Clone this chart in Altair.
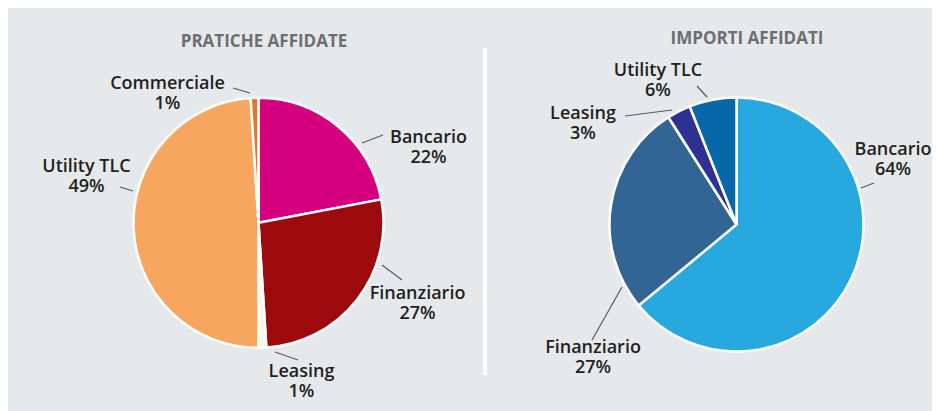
import altair as alt
import pandas as pd

# ---------------- data ----------------
left_title = "PRATICHE AFFIDATE"
left_categories = ["Bancario", "Finanziario", "Leasing", "Utility TLC", "Commerciale"]
left_values = [22, 27, 1, 49, 1]

right_title = "IMPORTI AFFIDATI"
right_categories = ["Bancario", "Finanziario", "Leasing", "Utility TLC"]
right_values = [64, 27, 3, 6]

# ---------------- styles ----------------
left_colors = ["#d5007f", "#9d0a0e", "#fdf3ec", "#f7a65f", "#e2762a"]
right_colors = ["#27a9e0", "#336594", "#2e3092", "#0768a9"]
BG = "#e6e9ec"
TEXT = "#231f20"
TITLE = "#6d6e71"
LEADER = "#58595b"
FONT = "Open Sans"
LINE = 20

W, H = 924, 403

# pie layout (chart pixels)
LEFT = dict(cx=250.5, cy=214.8, r=125, title_dx=5.5, title_y=34)
RIGHT = dict(cx=728.5, cy=216.5, r=127, title_dx=10.5, title_y=31)

# label layout: offsets of label block and leader ends from the pie centre
LEFT_LABELS = {
    "Bancario": ((170, -75), (103.5, -79.8), (124.5, -87.8)),
    "Finanziario": ((159, 81), (123.5, 42.2), (143.5, 57.2)),
    "Leasing": ((43, 159), (16.5, 129.2), (39.5, 137.2)),
    "Utility TLC": ((-172, -46), (-125.5, -31.8), (-138.5, -35.8)),
    "Commerciale": ((-91, -129), (-8.5, -129.8), (-25.5, -134.8)),
}
RIGHT_LABELS = {
    "Bancario": ((156.5, -64.5), (124.5, -36.5), (137.5, -41.5)),
    "Finanziario": ((-143.5, 133.5), (-114.5, 62.5), (-144.5, 115.5)),
    "Leasing": ((-153.5, -100.5), (-64.5, -114.5), (-111.5, -108.5)),
    "Utility TLC": ((-78.5, -143.5), (-29.5, -127.5), (-39.5, -138.5)),
}


def slices(prefix, cats, vals):
    rows, acc = [], 0
    for c, v in zip(cats, vals):
        rows.append({"key": f"{prefix}|{c}", "cat": c, "start": acc, "end": acc + v})
        acc += v
    return pd.DataFrame(rows), acc


def labels(cats, vals, lay, cfg):
    rows, lines = [], []
    for c, v in zip(cats, vals):
        (lx, ly), (ax, ay), (bx, by) = lay[c]
        rows.append({"x": cfg["cx"] + lx, "y": cfg["cy"] + ly - LINE / 2,
                     "txt": f"{c}\n{v}%"})
        lines.append({"x": cfg["cx"] + ax, "y": cfg["cy"] + ay,
                      "x2": cfg["cx"] + bx, "y2": cfg["cy"] + by})
    return pd.DataFrame(rows), pd.DataFrame(lines)


color_scale = alt.Scale(
    domain=[f"L|{c}" for c in left_categories] + [f"R|{c}" for c in right_categories],
    range=left_colors + right_colors,
)
xs = alt.Scale(domain=[0, W], range=[0, W], nice=False, zero=False)
ys = alt.Scale(domain=[0, H], range=[0, H], nice=False, zero=False)


def pie_layers(prefix, cats, vals, lay, cfg, title):
    df, total = slices(prefix, cats, vals)
    tscale = alt.Scale(domain=[0, total], range=[0, 6.283185307179586])
    arc = alt.Chart(df).mark_arc(radius=cfg["r"], stroke="white", strokeWidth=2.5).encode(
        theta=alt.Theta("start:Q", scale=tscale),
        theta2="end:Q",
        color=alt.Color("key:N", scale=color_scale, legend=None),
        x=alt.value(cfg["cx"]),
        y=alt.value(cfg["cy"]),
    )
    ldf, lines = labels(cats, vals, lay, cfg)
    leader = alt.Chart(lines).mark_rule(color=LEADER, strokeWidth=1.2).encode(
        x=alt.X("x:Q", scale=xs, axis=None),
        y=alt.Y("y:Q", scale=ys, axis=None),
        x2="x2:Q",
        y2="y2:Q",
    )
    txt = alt.Chart(ldf).mark_text(
        lineBreak="\n", align="center", baseline="middle", font=FONT,
        fontSize=18, fontWeight=600, lineHeight=LINE, color=TEXT,
    ).encode(
        x=alt.X("x:Q", scale=xs, axis=None),
        y=alt.Y("y:Q", scale=ys, axis=None),
        text="txt:N",
    )
    ttl = alt.Chart(pd.DataFrame({"t": [title]})).mark_text(
        align="center", baseline="middle", font=FONT, fontSize=17,
        fontWeight=700, color=TITLE,
    ).encode(
        x=alt.value(cfg["cx"] + cfg["title_dx"]),
        y=alt.value(cfg["title_y"]),
        text="t:N",
    )
    return [arc, leader, txt, ttl]


divider = alt.Chart(pd.DataFrame({"d": [0]})).mark_rule(color="white", strokeWidth=4).encode(
    x=alt.value(477), y=alt.value(40), y2=alt.value(367)
)

chart = alt.layer(
    divider,
    *pie_layers("L", left_categories, left_values, LEFT_LABELS, LEFT, left_title),
    *pie_layers("R", right_categories, right_values, RIGHT_LABELS, RIGHT, right_title),
).properties(
    width=W, height=H, padding=0, background=BG,
    autosize=alt.AutoSizeParams(type="none"),
).configure_view(strokeWidth=0)

chart.save("out.html", embed_options={"renderer": "svg", "actions": False})
